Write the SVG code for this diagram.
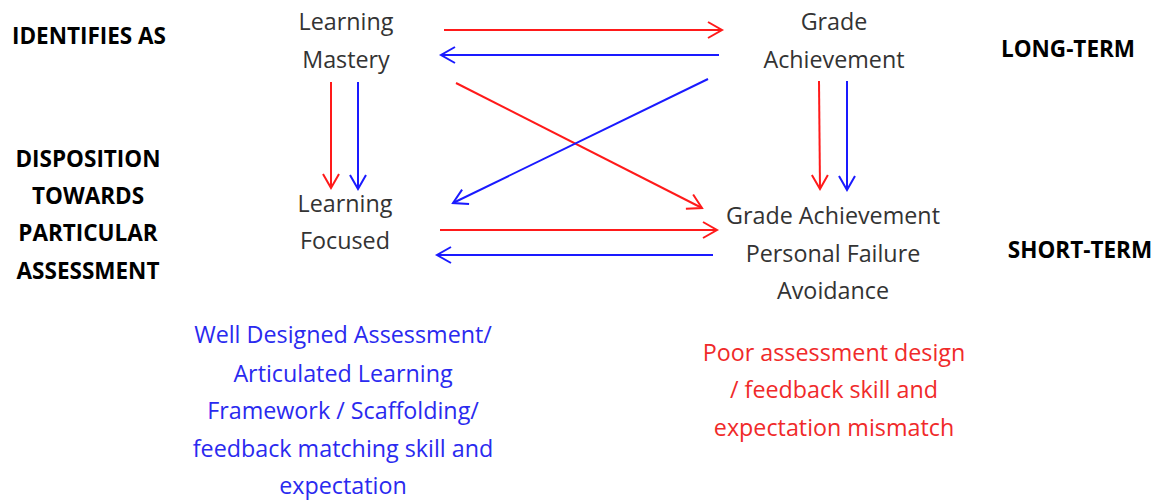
<svg xmlns="http://www.w3.org/2000/svg" width="1161" height="502" viewBox="0 0 1161 502">
  <style>
    .t { font-family: "Open Sans", Lato, sans-serif; font-size: 23.3px; fill: #333333; text-anchor: middle; }
    .h { font-family: "Open Sans", Lato, sans-serif; font-size: 22.5px; font-weight: bold; fill: #000000; text-anchor: middle; }
    .nb { font-family: "Open Sans", Lato, sans-serif; font-size: 23.3px; fill: #2a2aef; text-anchor: middle; }
    .nr { font-family: "Open Sans", Lato, sans-serif; font-size: 23.3px; fill: #f02a2a; text-anchor: middle; }
    .r { stroke: #ff1a1a; stroke-width: 2; fill: none; marker-end: url(#ar); }
    .b { stroke: #1a1aff; stroke-width: 2; fill: none; marker-end: url(#ab); }
  </style>
  <defs>
    <marker id="ar" markerUnits="userSpaceOnUse" markerWidth="20" markerHeight="20" viewBox="-16 -10 18 20" refX="0" refY="0" orient="auto">
      <path d="M-14,-8 L0,0 L-14,8" fill="none" stroke="#ff1a1a" stroke-width="2"/>
    </marker>
    <marker id="ab" markerUnits="userSpaceOnUse" markerWidth="20" markerHeight="20" viewBox="-16 -10 18 20" refX="0" refY="0" orient="auto">
      <path d="M-14,-8 L0,0 L-14,8" fill="none" stroke="#1a1aff" stroke-width="2"/>
    </marker>
  </defs>

  <!-- row and column headings -->
  <g id="label-identifies">
    <text class="h" x="89" y="44">IDENTIFIES AS</text>
  </g>
  <g id="label-disposition">
    <text class="h" x="88" y="167">DISPOSITION</text>
    <text class="h" x="88" y="204">TOWARDS</text>
    <text class="h" x="88" y="241">PARTICULAR</text>
    <text class="h" x="88" y="279">ASSESSMENT</text>
  </g>
  <g id="label-long-term">
    <text class="h" x="1068" y="57">LONG-TERM</text>
  </g>
  <g id="label-short-term">
    <text class="h" x="1080" y="258">SHORT-TERM</text>
  </g>

  <!-- nodes -->
  <g id="learning-mastery">
    <text class="t" x="346" y="30">Learning</text>
    <text class="t" x="346" y="68">Mastery</text>
  </g>
  <g id="grade-achievement">
    <text class="t" x="834" y="30">Grade</text>
    <text class="t" x="834" y="68">Achievement</text>
  </g>
  <g id="learning-focused">
    <text class="t" x="345" y="212">Learning</text>
    <text class="t" x="345" y="249">Focused</text>
  </g>
  <g id="grade-failure">
    <text class="t" x="833" y="224">Grade Achievement</text>
    <text class="t" x="833" y="262">Personal Failure</text>
    <text class="t" x="833" y="299">Avoidance</text>
  </g>

  <!-- conditions -->
  <g id="note-good">
    <text class="nb" x="343" y="343">Well Designed Assessment/</text>
    <text class="nb" x="343" y="382">Articulated Learning</text>
    <text class="nb" x="343" y="419">Framework / Scaffolding/</text>
    <text class="nb" x="343" y="457">feedback matching skill and</text>
    <text class="nb" x="343" y="494">expectation</text>
  </g>
  <g id="note-poor">
    <text class="nr" x="834" y="361">Poor assessment design</text>
    <text class="nr" x="834" y="398">/ feedback skill and</text>
    <text class="nr" x="834" y="436">expectation mismatch</text>
  </g>

  <!-- connectors -->
  <g id="connectors">
    <line class="r" x1="444" y1="30" x2="722" y2="30"/>
    <line class="b" x1="719" y1="55" x2="441" y2="55"/>
    <line class="r" x1="331" y1="82" x2="331" y2="188"/>
    <line class="b" x1="358" y1="82" x2="358" y2="189"/>
    <line class="r" x1="819" y1="81" x2="820" y2="189"/>
    <line class="b" x1="847" y1="81" x2="847" y2="190"/>
    <line class="r" x1="456" y1="83" x2="702" y2="208"/>
    <line class="b" x1="708" y1="79" x2="453" y2="203"/>
    <line class="r" x1="440" y1="230" x2="717" y2="230"/>
    <line class="b" x1="713" y1="255" x2="437" y2="255"/>
  </g>
</svg>
